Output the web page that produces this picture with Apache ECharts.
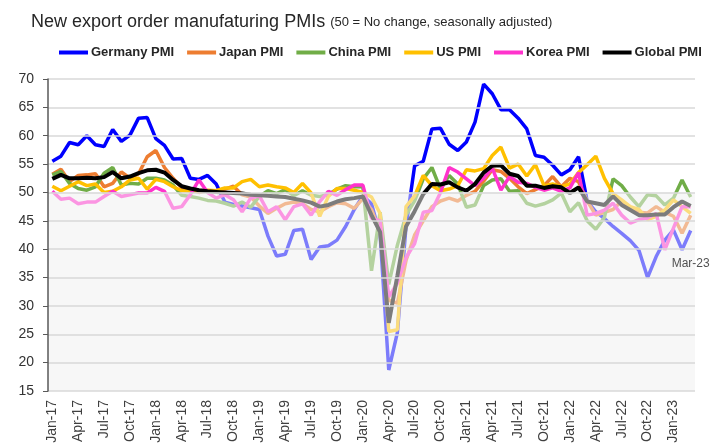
<!DOCTYPE html>
<html>
<head>
<meta charset="utf-8">
<script src="https://cdn.jsdelivr.net/npm/echarts@6/dist/echarts.min.js"></script>
<style>
  html, body { margin: 0; padding: 0; background: #fff; }
  #chart { width: 713px; height: 448px; }
</style>
</head>
<body>
<div id="chart"></div>
<script>
// month labels Jan-17 .. Mar-23
const months = ["Jan", "Feb", "Mar", "Apr", "May", "Jun", "Jul", "Aug", "Sep", "Oct", "Nov", "Dec"];
const years = ["17", "18", "19", "20", "21", "22", "23"];
const categories = [];
years.forEach((y) => {
  months.forEach((m) => {
    if (categories.length < 75) categories.push(m + "-" + y);
  });
});

const germany = [
  55.5, 56.4, 58.8, 58.4, 60.0, 58.4, 58.1, 61.1, 59.0, 60.1, 63.1, 63.2,
  59.5, 58.3, 55.9, 56.0, 52.5, 52.3, 53.0, 51.5, 48.3, 47.9, 47.6, 47.3,
  47.0, 42.3, 38.8, 39.1, 43.3, 43.5, 38.2, 40.4, 40.6, 41.6, 44.0, 47.0,
  49.4, 48.0, 42.5, 18.7, 25.3, 44.0, 54.7, 55.5, 61.2, 61.3, 58.5, 57.4,
  58.9, 62.4, 69.1, 67.4, 64.6, 64.6, 63.1, 61.2, 56.5, 56.2, 54.8, 53.1,
  54.0, 56.3, 48.5, 46.6, 45.4, 44.0, 42.8, 41.5, 39.8, 35.0, 38.7, 41.6,
  43.4, 39.9, 43.3
];
const japan = [
  53.2, 54.1, 51.9, 53.0, 53.1, 53.3, 51.0, 51.6, 53.6, 52.5, 53.3, 56.3,
  57.4, 54.4, 52.5, 50.8, 50.5, 50.0, 50.3, 50.3, 50.6, 51.1, 49.6, 49.2,
  47.6, 46.3, 47.2, 48.0, 48.3, 48.0, 47.0, 46.6, 47.5, 48.2, 48.0, 47.2,
  48.9, 47.0, 43.0, 31.0, 30.5, 38.0, 42.5, 45.0, 47.5, 48.5, 49.0, 48.5,
  49.5, 50.2, 52.0, 54.0, 53.7, 52.5, 51.0, 49.8, 50.5, 51.2, 52.8, 51.0,
  52.5, 51.9, 48.5, 46.0, 46.5, 47.0, 48.5, 47.2, 46.5, 46.4, 47.5, 46.5,
  45.8, 42.8, 46.0
];
const china = [
  53.1, 53.7, 51.6, 50.7, 50.4, 51.0, 53.4, 54.4, 51.3, 51.6, 51.5, 52.5,
  52.5, 52.2, 51.3, 49.5, 49.3, 49.0, 48.6, 48.5, 48.1, 47.6, 48.3, 47.4,
  49.3, 50.3, 49.8, 50.5, 49.4, 50.3, 49.5, 49.3, 49.6, 50.6, 51.2, 51.0,
  51.0, 36.2, 46.5, 33.8, 40.7, 46.0, 48.5, 52.4, 54.4, 50.6, 53.0, 51.5,
  47.4, 47.8, 51.2, 52.2, 52.4, 50.2, 50.3, 48.1, 47.6, 48.0, 48.7, 49.9,
  46.6, 48.2, 45.0, 43.5, 45.6, 52.4, 51.2, 49.2, 47.5, 49.6, 49.4, 47.8,
  49.0, 52.2, 49.2
];
const us = [
  51.1, 50.3, 51.1, 51.9, 51.2, 51.5, 50.0, 50.2, 51.0, 52.2, 52.5, 50.6,
  52.3, 51.9, 51.0, 50.3, 50.2, 50.3, 50.4, 50.3, 50.8, 50.8, 51.9, 52.3,
  51.0, 51.3, 51.0, 50.8, 50.0, 51.6, 49.9, 45.8, 49.3, 50.7, 50.7, 50.4,
  50.0, 49.2, 46.3, 25.5, 25.8, 47.5, 49.4, 53.0, 51.2, 50.3, 50.6, 51.2,
  54.0, 53.8, 54.2, 56.5, 58.0, 54.3, 55.0, 52.9, 54.9, 51.2, 51.5, 51.0,
  51.5, 53.5, 54.9, 56.4, 52.5, 49.8, 48.7, 47.5, 47.0, 45.2, 45.8, 46.9,
  48.7, 47.5, 46.3
];
const korea = [
  50.2, 48.8, 49.0, 48.0, 48.3, 48.3, 49.3, 50.2, 49.3, 49.6, 49.9, 49.9,
  50.9, 50.2, 47.2, 47.5, 49.6, 52.2, 50.0, 49.0, 49.6, 48.7, 46.6, 49.0,
  49.4, 46.6, 47.5, 45.2, 47.5, 48.0, 46.0, 48.4, 50.2, 49.5, 50.5, 51.3,
  51.3, 45.5, 45.0, 31.6, 34.0, 38.5, 41.0, 46.5, 46.8, 50.0, 54.4, 53.6,
  52.4, 51.2, 52.5, 54.3, 50.4, 52.8, 51.8, 51.6, 50.9, 50.4, 50.8, 50.2,
  50.8, 53.5, 46.0, 46.3, 46.9, 48.1, 46.0, 44.6, 45.2, 45.5, 46.3, 39.9,
  43.7, 47.5, 47.5
];
const globalPmi = [
  52.4, 53.1, 52.5, 52.5, 52.6, 52.5, 52.7, 53.6, 52.5, 52.8, 53.4, 53.9,
  54.0, 53.5, 52.2, 51.1, 50.7, 50.4, 50.2, 50.1, 50.0, 49.9, 49.8, 49.6,
  49.5, 49.4, 49.3, 49.2, 48.9, 48.6, 48.2, 47.5, 47.8, 48.4, 48.8, 49.0,
  49.3, 46.0, 43.0, 27.0, 35.3, 44.0, 46.7, 49.7, 51.5, 51.4, 51.8, 50.9,
  50.3, 51.5, 53.5, 54.7, 54.8, 53.3, 52.9, 51.2, 51.2, 50.8, 51.1, 50.9,
  49.9, 50.9, 48.4, 48.1, 47.8, 49.3, 47.8, 46.9, 46.0, 46.0, 46.1, 46.1,
  47.4, 48.4, 47.6
];

const seriesNames = ["Germany PMI", "Japan PMI", "China PMI", "US PMI", "Korea PMI", "Global PMI"];
const seriesColors = ["#0000ff", "#ed7d31", "#70ad47", "#ffc000", "#ff33cc", "#000000"];
const seriesData = [germany, japan, china, us, korea, globalPmi];
const yTicks = { min: 15, max: 70, step: 5 };
const noChange = 50;
const lastLabel = categories[categories.length - 1];

const chart = echarts.init(document.getElementById("chart"));

const lines = seriesNames.map((name, i) => ({
  name: name,
  type: "line",
  data: seriesData[i],
  symbol: "none",
  z: 3,
  lineStyle: { color: seriesColors[i], width: i === 5 ? 4 : 3.5 },
  itemStyle: { color: seriesColors[i] },
}));

const font = "Liberation Sans, Arial, sans-serif";

chart.setOption({
  animation: false,
  backgroundColor: "#ffffff",
  textStyle: { fontFamily: font },
  title: {
    left: 26,
    top: 8,
    text: "{a|New export order manufaturing PMIs} {b|(50 = No change, seasonally adjusted)}",
    textStyle: {
      rich: {
        a: { fontSize: 18, color: "#262626", fontWeight: "normal", fontFamily: font },
        b: { fontSize: 13, color: "#262626", fontWeight: "normal", fontFamily: font },
      },
    },
  },
  legend: {
    data: seriesNames,
    left: 54,
    top: 41,
    icon: "rect",
    itemWidth: 29,
    itemHeight: 4,
    itemGap: 13,
    selectedMode: false,
    textStyle: { fontSize: 13, fontWeight: "bold", color: "#262626", padding: [0, 0, 0, -2] },
  },
  grid: { left: 48, right: 18, top: 79, bottom: 57 },
  xAxis: {
    type: "category",
    data: categories,
    boundaryGap: true,
    axisLine: { show: false },
    axisTick: { show: false },
    axisLabel: { interval: 2, rotate: 90, margin: 9, fontSize: 14, color: "#404040" },
  },
  yAxis: {
    type: "value",
    min: yTicks.min,
    max: yTicks.max,
    interval: yTicks.step,
    z: 20,
    axisLine: { show: true, lineStyle: { color: "#595959", width: 1.5 } },
    axisTick: { show: true, length: 5, lineStyle: { color: "#595959" } },
    axisLabel: { fontSize: 14, color: "#333333", margin: 14 },
    splitLine: { lineStyle: { color: "#d9d9d9", width: 1.5 } },
  },
  series: [
    {
      name: "bg",
      type: "line",
      data: [],
      silent: true,
      markArea: {
        silent: true,
        z: 0,
        itemStyle: { color: "#f7f7f7" },
        data: [[{ yAxis: yTicks.min }, { yAxis: noChange }]],
      },
    },
    ...lines,
    {
      name: "fade",
      type: "line",
      data: [],
      z: 10,
      silent: true,
      markArea: {
        silent: true,
        z: 10,
        itemStyle: { color: "rgba(247,247,247,0.5)" },
        data: [[{ yAxis: yTicks.min }, { yAxis: noChange }]],
      },
    },
    {
      name: "last",
      type: "scatter",
      zlevel: 1,
      z: 12,
      symbolSize: 1,
      itemStyle: { color: "rgba(0,0,0,0)" },
      data: [[lastLabel, germany[germany.length - 1]]],
      label: {
        show: true,
        position: "bottom",
        distance: 27,
        fontSize: 12,
        color: "#262626",
        formatter: (p) => p.value[0],
      },
    },
  ],
});
</script>
</body>
</html>
